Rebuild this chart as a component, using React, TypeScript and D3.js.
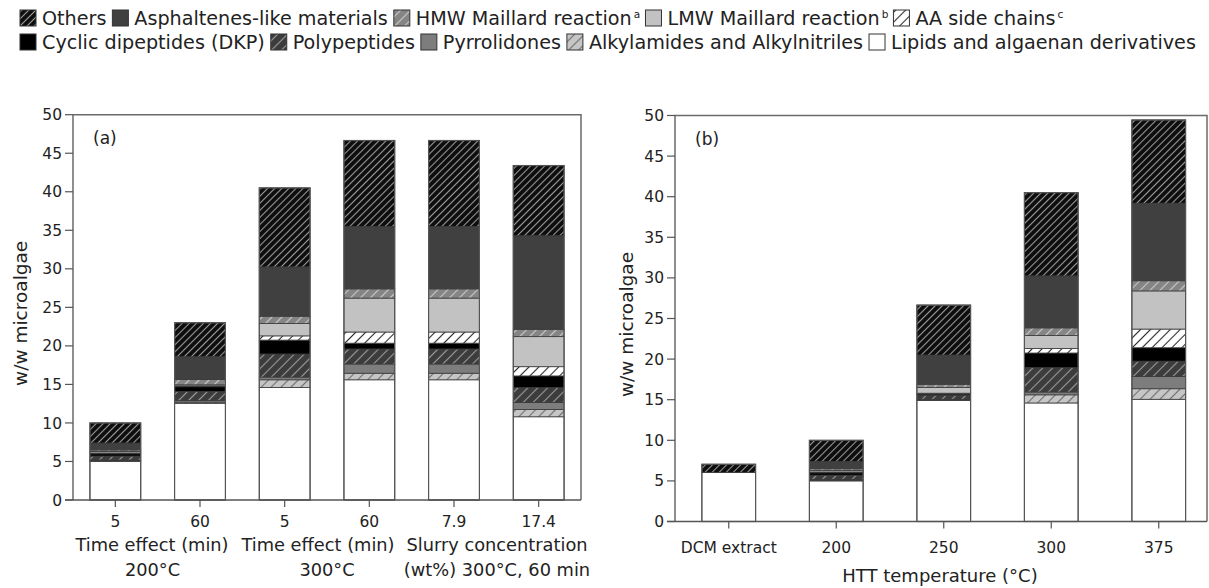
import React from "react";
import * as d3 from "d3";

const FONT = "'DejaVu Sans', 'Open Sans', sans-serif";

// Component keys, stacked bottom-up
const keys = [
  "lipids",
  "alkyl",
  "pyrr",
  "poly",
  "dkp",
  "aa",
  "lmw",
  "hmw",
  "asph",
  "others",
];

// Panel (a): time effect and slurry concentration
const categoriesA = ["5", "60", "5", "60", "7.9", "17.4"];
const lipidsA = [5.0, 12.55, 14.6, 15.6, 15.6, 10.8];
const alkylA = [0.1, 0.15, 1.0, 0.85, 0.85, 0.95];
const pyrrA = [0.1, 0.2, 0.35, 1.2, 1.2, 0.9];
const polyA = [0.5, 1.2, 3.0, 1.95, 1.95, 1.95];
const dkpA = [0.3, 0.6, 1.8, 0.75, 0.75, 1.5];
const aaA = [0.1, 0.1, 0.55, 1.45, 1.45, 1.2];
const lmwA = [0.2, 0.15, 1.6, 4.4, 4.4, 3.9];
const hmwA = [0.2, 0.7, 0.95, 1.2, 1.2, 0.95];
const asphA = [0.9, 2.95, 6.4, 8.1, 8.1, 12.15];
const othersA = [2.6, 4.4, 10.25, 11.15, 11.15, 9.1];

// Panel (b): HTT temperature
const categoriesB = ["DCM extract", "200", "250", "300", "375"];
const lipidsB = [6.05, 5.0, 14.9, 14.6, 15.05];
const alkylB = [0, 0.1, 0.05, 1.0, 1.3];
const pyrrB = [0, 0.1, 0.1, 0.35, 1.5];
const polyB = [0, 0.5, 0.5, 3.0, 1.9];
const dkpB = [0, 0.3, 0.15, 1.8, 1.65];
const aaB = [0, 0.1, 0.1, 0.55, 2.3];
const lmwB = [0, 0.2, 0.7, 1.6, 4.7];
const hmwB = [0, 0.2, 0.4, 0.95, 1.25];
const asphB = [0, 0.9, 3.6, 6.4, 9.55];
const othersB = [1.0, 2.6, 6.15, 10.25, 10.25];

const yTicks = [0, 5, 10, 15, 20, 25, 30, 35, 40, 45, 50];

// Legend entries: [key, label, superscript]
const legendRow1: [string, string, string][] = [
  ["others", "Others", ""],
  ["asph", "Asphaltenes-like materials", ""],
  ["hmw", "HMW Maillard reaction", "a"],
  ["lmw", "LMW Maillard reaction", "b"],
  ["aa", "AA side chains", "c"],
];
const legendRow2: [string, string, string][] = [
  ["dkp", "Cyclic dipeptides (DKP)", ""],
  ["poly", "Polypeptides", ""],
  ["pyrr", "Pyrrolidones", ""],
  ["alkyl", "Alkylamides and Alkylnitriles", ""],
  ["lipids", "Lipids and algaenan derivatives", ""],
];

// Fill styles: base colour and optional diagonal stripe colour
const styles: Record<string, { base: string; stripe?: string; gap?: number }> = {
  others: { base: "#0d0d0d", stripe: "#9a9a9a", gap: 5 },
  asph: { base: "#404040" },
  hmw: { base: "#858585", stripe: "#c9c9c9", gap: 7 },
  lmw: { base: "#c2c2c2" },
  aa: { base: "#ffffff", stripe: "#2a2a2a", gap: 7 },
  dkp: { base: "#000000" },
  poly: { base: "#3c3c3c", stripe: "#9c9c9c", gap: 7 },
  pyrr: { base: "#7d7d7d" },
  alkyl: { base: "#c6c6c6", stripe: "#6e6e6e", gap: 7 },
  lipids: { base: "#ffffff" },
};

const fillOf = (k: string) => (styles[k].stripe ? `url(#pat-${k})` : styles[k].base);

function buildRows(cats: string[], cols: number[][]) {
  return cats.map((c, i) => {
    const row: Record<string, any> = { cat: c };
    keys.forEach((k, j) => (row[k] = cols[j][i]));
    return row;
  });
}

const rowsA = buildRows(categoriesA, [lipidsA, alkylA, pyrrA, polyA, dkpA, aaA, lmwA, hmwA, asphA, othersA]);
const rowsB = buildRows(categoriesB, [lipidsB, alkylB, pyrrB, polyB, dkpB, aaB, lmwB, hmwB, asphB, othersB]);

let measureCtx: CanvasRenderingContext2D | null = null;
function textWidth(s: string, size: number) {
  if (!measureCtx) measureCtx = document.createElement("canvas").getContext("2d");
  measureCtx!.font = `${size}px ${FONT}`;
  return measureCtx!.measureText(s).width;
}

const SW = 16; // legend swatch size
const SW_GAP = 6; // swatch to label
const ITEM_GAP = 6; // label to next swatch

function rowWidth(items: [string, string, string][], size: number) {
  return d3.sum(items, ([, label, sup]) => SW + SW_GAP + textWidth(label, size) + (sup ? size * 0.3 + 2 : 0) + ITEM_GAP) - ITEM_GAP;
}

type PanelProps = {
  rows: Record<string, any>[];
  cats: string[];
  left: number;
  right: number;
  top: number;
  bottom: number;
  frameRight: number;
  padInner: number;
  padOuter: number;
  tag: string;
  yLabelX: number;
  tickLabelDy: number;
};

function Panel(p: PanelProps) {
  const x = d3.scaleBand<string>().domain(p.cats.map((_, i) => String(i))).range([p.left, p.right]).paddingInner(p.padInner).paddingOuter(p.padOuter);
  const y = d3.scaleLinear().domain([0, 50]).range([p.bottom, p.top]);
  const stacked = d3.stack<Record<string, any>>().keys(keys)(p.rows);
  const bw = x.bandwidth();
  return (
    <g>
      {/* stacked segments */}
      {stacked.map((layer) =>
        layer.map((seg, i) => {
          const h = y(seg[0]) - y(seg[1]);
          if (h <= 0) return null;
          return (
            <rect
              key={layer.key + i}
              x={x(String(i))}
              y={y(seg[1])}
              width={bw}
              height={h}
              fill={fillOf(layer.key)}
              stroke="#3a3a3a"
              strokeWidth={0.8}
            />
          );
        })
      )}
      {/* bar outlines */}
      {p.rows.map((r, i) => {
        const total = d3.sum(keys, (k) => r[k]);
        return (
          <rect key={"o" + i} x={x(String(i))} y={y(total)} width={bw} height={y(0) - y(total)} fill="none" stroke="#555" strokeWidth={1.2} />
        );
      })}
      {/* frame */}
      <path
        d={`M${p.left},${p.bottom}V${p.top}H${p.frameRight}V${p.bottom}`}
        fill="none"
        stroke="#6a6a6a"
        strokeWidth={1.5}
      />
      <line x1={p.left - 8} x2={p.frameRight} y1={p.bottom} y2={p.bottom} stroke="#555" strokeWidth={1.5} />
      {/* y ticks */}
      {yTicks.map((t) => (
        <g key={"yt" + t}>
          <line x1={p.left - 8} x2={p.left} y1={y(t)} y2={y(t)} stroke="#555" strokeWidth={1.2} />
          <text x={p.left - 11} y={y(t)} dy="0.36em" textAnchor="end" fontSize={15.5} fill="#222">
            {t}
          </text>
        </g>
      ))}
      {/* x ticks */}
      {p.cats.map((c, i) => {
        const cx = (x(String(i)) as number) + bw / 2;
        return (
          <g key={"xt" + i}>
            <line x1={cx} x2={cx} y1={p.bottom} y2={p.bottom + 7} stroke="#555" strokeWidth={1.2} />
            <text x={cx} y={p.bottom + p.tickLabelDy} textAnchor="middle" fontSize={15.5} fill="#222">
              {c}
            </text>
          </g>
        );
      })}
      <text x={p.left + 20} y={p.top + 29} fontSize={17} fill="#222">
        {p.tag}
      </text>
      <text
        transform={`translate(${p.yLabelX},${(p.top + p.bottom) / 2 + 6}) rotate(-90)`}
        textAnchor="middle"
        fontSize={18.5}
        fill="#222"
      >
        w/w microalgae
      </text>
    </g>
  );
}

function LegendRow({ items, x0, y0, size }: { items: [string, string, string][]; x0: number; y0: number; size: number }) {
  let cx = x0;
  const out: React.ReactNode[] = [];
  items.forEach(([k, label, sup], i) => {
    out.push(<rect key={"s" + i} x={cx} y={y0 - SW / 2} width={SW} height={SW} fill={fillOf(k)} stroke="#333" strokeWidth={1} />);
    cx += SW + SW_GAP;
    out.push(
      <text key={"t" + i} x={cx} y={y0} dy="0.36em" fontSize={size} fill="#222">
        {label}
        {sup ? (
          <tspan fontSize={size * 0.55} dy="-0.7em" dx="2">
            {sup}
          </tspan>
        ) : null}
      </text>
    );
    cx += textWidth(label, size) + (sup ? size * 0.3 + 2 : 0) + ITEM_GAP;
  });
  return <g>{out}</g>;
}

export default function App() {
  // legend type size chosen so the longer row spans the page width
  const legendSize = Math.min(20, 18 * (1185 / rowWidth(legendRow2, 18)));
  return (
    <svg
      width={1209}
      height={588}
      style={{ position: "absolute", left: 0, top: 0, background: "#fff" }}
      fontFamily={FONT}
    >
      <defs>
        {keys
          .filter((k) => styles[k].stripe)
          .map((k) => {
            const s = styles[k];
            const g = s.gap as number;
            return (
              <pattern key={k} id={`pat-${k}`} patternUnits="userSpaceOnUse" width={g} height={g} patternTransform="rotate(45)">
                <rect width={g} height={g} fill={s.base} />
                <line x1={g / 2} y1={0} x2={g / 2} y2={g} stroke={s.stripe} strokeWidth={1.1} />
              </pattern>
            );
          })}
      </defs>
      <rect width={1209} height={588} fill="#fff" />

      <LegendRow items={legendRow1} x0={20} y0={18} size={legendSize} />
      <LegendRow items={legendRow2} x0={20} y0={42} size={legendSize} />

      <Panel
        rows={rowsA}
        cats={categoriesA}
        left={73}
        right={581}
        frameRight={581}
        top={114.7}
        bottom={500}
        padInner={0.4}
        padOuter={0.2}
        tag="(a)"
        yLabelX={27}
        tickLabelDy={27}
      />
      <Panel
        rows={rowsB}
        cats={categoriesB}
        left={675}
        right={1212.5}
        frameRight={1207}
        top={115.5}
        bottom={521.5}
        padInner={0.5}
        padOuter={0.25}
        tag="(b)"
        yLabelX={633}
        tickLabelDy={31}
      />

      {/* group captions under panel (a) */}
      <g fontSize={17.8} fill="#222" textAnchor="middle">
        <text x={152} y={551}>Time effect (min)</text>
        <text x={318} y={551}>Time effect (min)</text>
        <text x={497} y={551}>Slurry concentration</text>
        <text x={152.5} y={576}>200°C</text>
        <text x={327} y={576}>300°C</text>
        <text x={497} y={576}>(wt%) 300°C, 60 min</text>
      </g>
      <text x={940} y={582} fontSize={18} fill="#222" textAnchor="middle">
        HTT temperature (°C)
      </text>
    </svg>
  );
}
